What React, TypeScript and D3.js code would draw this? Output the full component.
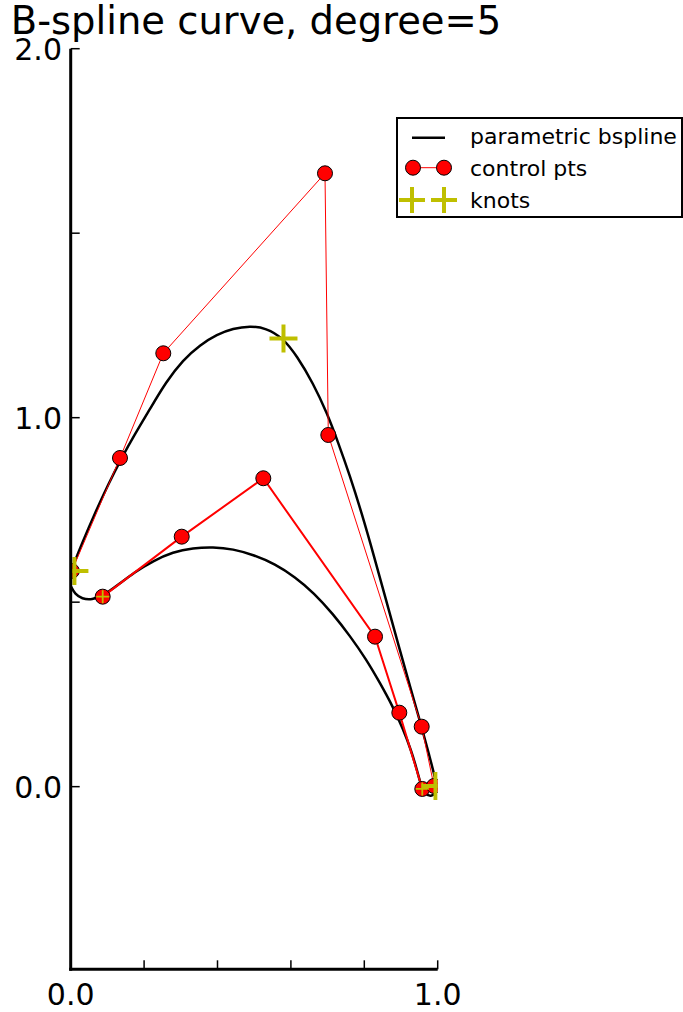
import React from "react";
import * as d3 from "d3";

const title = "B-spline curve, degree=5";

const xTicks = [0, 0.2, 0.4, 0.6, 0.8, 1.0];
const xTickLabels = ["0.0", "", "", "", "", "1.0"];
const yTicks = [0, 0.5, 1.0, 1.5, 2.0];
const yTickLabels = ["0.0", "", "1.0", "", "2.0"];

// evaluated parametric spline, sampled around its closed loop
const curveX = [
  0.0008, 0.0335, 0.0662, 0.1016, 0.1371, 0.1752, 0.2161, 0.2597, 0.306, 0.3523, 0.3986, 0.4422,
  0.4886, 0.5322, 0.5785, 0.6166, 0.6602, 0.6984, 0.7283, 0.761, 0.7937, 0.8264, 0.8591, 0.8946,
  0.9273, 0.9545, 0.9763, 0.9899, 0.9981, 0.9954, 0.9818, 0.9654, 0.9545, 0.9436, 0.9273, 0.9055,
  0.8782, 0.8428, 0.8046, 0.761, 0.7147, 0.6629, 0.6112, 0.5567, 0.4995, 0.4422, 0.3877, 0.3332,
  0.2787, 0.2243, 0.1752, 0.1289, 0.088, 0.058, 0.0308, 0.0117, 0.0008, -0.0074,
];
const curveY = [
  0.5846, 0.6659, 0.7417, 0.8176, 0.8881, 0.9558, 1.0236, 1.0967, 1.1564, 1.197, 1.2255, 1.2417,
  1.2485, 1.2431, 1.216, 1.1672, 1.094, 1.0127, 0.9341, 0.842, 0.739, 0.6252, 0.506, 0.3786,
  0.2621, 0.1672, 0.0886, 0.0344, 0.0019, -0.0171, -0.0279, -0.0198, 0.0019, 0.0453, 0.0995, 0.1564,
  0.216, 0.281, 0.3461, 0.4084, 0.468, 0.5249, 0.5683, 0.6035, 0.6279, 0.6442, 0.6496, 0.6469,
  0.636, 0.6117, 0.5821, 0.5469, 0.5171, 0.5062, 0.5089, 0.5225, 0.5415, 0.5605,
];

// control polygon (outer run, single stroke)
const ctrlOuterX = [0.003, 0.1343, 0.2523, 0.6929, 0.7019, 0.9564, 0.9899];
const ctrlOuterY = [0.5846, 0.8908, 1.1745, 1.6623, 0.9531, 0.1626, 0.0019];
// control polygon (wrapped run, stroked twice)
const ctrlWrapX = [0.0872, 0.3025, 0.5248, 0.8292, 0.8954, 0.958];
const ctrlWrapY = [0.5149, 0.6775, 0.8358, 0.4065, 0.2005, -0.0062];

// knots
const knotX = [0.0101, 0.5798, 0.994];
const knotY = [0.5846, 1.2146, 0.002];
const knotSmallX = [0.0872, 0.958];
const knotSmallY = [0.5149, -0.0062];

const FONT = "DejaVu Sans, sans-serif";
const KNOT_COLOR = "#bfbf00";

type P = [number, number];
const zip = (xs: number[], ys: number[]): P[] => xs.map((v, i) => [v, ys[i]]);

function Plus({ cx, cy, h, w }: { cx: number; cy: number; h: number; w: number }) {
  return (
    <g stroke={KNOT_COLOR} strokeWidth={w}>
      <line x1={cx - h} x2={cx + h} y1={cy} y2={cy} />
      <line x1={cx} x2={cx} y1={cy - h} y2={cy + h} />
    </g>
  );
}

export default function App() {
  const W = 683;
  const H = 1012;
  const left = 70.7;
  const right = 437.7;
  const top = 48.7;
  const bottom = 969.3;

  const x = d3.scaleLinear().domain([0, 1]).range([left, right]);
  const y = d3.scaleLinear().domain([-0.495, 2]).range([bottom, top]);

  const poly = d3
    .line<P>()
    .x((d) => x(d[0]))
    .y((d) => y(d[1]));
  const smooth = d3
    .line<P>()
    .x((d) => x(d[0]))
    .y((d) => y(d[1]))
    .curve(d3.curveBasisClosed);

  const curvePts = zip(curveX, curveY);
  const outer = zip(ctrlOuterX, ctrlOuterY);
  const wrap = zip(ctrlWrapX, ctrlWrapY);
  const ctrlAll = [...wrap, ...outer];
  const knots = zip(knotX, knotY);
  const knotsSmall = zip(knotSmallX, knotSmallY);

  return (
    <svg
      width={W}
      height={H}
      style={{ position: "absolute", left: 0, top: 0, display: "block", background: "#fff" }}
      fontFamily={FONT}
    >
      <defs>
        <clipPath id="plot-area">
          <rect x={left} y={top} width={right - left} height={bottom - top} />
        </clipPath>
      </defs>

      <text x={256} y={34} fontSize={38.5} textAnchor="middle" fill="#000">
        {title}
      </text>

      <g clipPath="url(#plot-area)">
        <path d={smooth(curvePts) ?? ""} fill="none" stroke="#000" strokeWidth={2.5} />
        <path d={poly(outer) ?? ""} fill="none" stroke="#ff0000" strokeWidth={1} />
        <path d={poly(wrap) ?? ""} fill="none" stroke="#ff0000" strokeWidth={2} />
        {ctrlAll.map((d, i) => (
          <circle key={i} cx={x(d[0])} cy={y(d[1])} r={7.5} fill="#ff0000" stroke="#000" strokeWidth={1} />
        ))}
        {knots.map((d, i) => (
          <Plus key={"k" + i} cx={x(d[0])} cy={y(d[1])} h={14} w={4} />
        ))}
        {knotsSmall.map((d, i) => (
          <Plus key={"s" + i} cx={x(d[0])} cy={y(d[1])} h={6.5} w={1.8} />
        ))}
      </g>

      {/* spines */}
      <line x1={left} x2={left} y1={top} y2={bottom + 1.5} stroke="#000" strokeWidth={3} />
      <line x1={left - 1.5} x2={right} y1={bottom} y2={bottom} stroke="#000" strokeWidth={3} />

      {/* x ticks */}
      {xTicks.map((t, i) => (
        <g key={"xt" + i}>
          <line x1={x(t)} x2={x(t)} y1={bottom} y2={bottom - 9} stroke="#000" strokeWidth={1.5} />
          {xTickLabels[i] && (
            <text x={x(t)} y={1005} fontSize={30} textAnchor="middle" fill="#000">
              {xTickLabels[i]}
            </text>
          )}
        </g>
      ))}

      {/* y ticks */}
      {yTicks.map((t, i) => (
        <g key={"yt" + i}>
          <line x1={left} x2={left + 9} y1={y(t)} y2={y(t)} stroke="#000" strokeWidth={1.5} />
          {yTickLabels[i] && (
            <text x={62} y={y(t) + 11.5} fontSize={30} textAnchor="end" fill="#000">
              {yTickLabels[i]}
            </text>
          )}
        </g>
      ))}

      {/* legend */}
      <g>
        <rect x={397} y={118} width={285} height={99} fill="#fff" stroke="#000" strokeWidth={2} />
        <line x1={412} x2={445} y1={137.7} y2={137.7} stroke="#000" strokeWidth={2.5} />
        <text x={470} y={144.3} fontSize={22} fill="#000">parametric bspline</text>

        <line x1={413} x2={444} y1={167.7} y2={167.7} stroke="#ff0000" strokeWidth={1} />
        <circle cx={413} cy={167.7} r={7.5} fill="#ff0000" stroke="#000" strokeWidth={1} />
        <circle cx={444} cy={167.7} r={7.5} fill="#ff0000" stroke="#000" strokeWidth={1} />
        <text x={470} y={176} fontSize={22} fill="#000">control pts</text>

        <Plus cx={412} cy={200} h={13} w={4} />
        <Plus cx={444} cy={200} h={13} w={4} />
        <text x={470} y={208} fontSize={22} fill="#000">knots</text>
      </g>
    </svg>
  );
}
